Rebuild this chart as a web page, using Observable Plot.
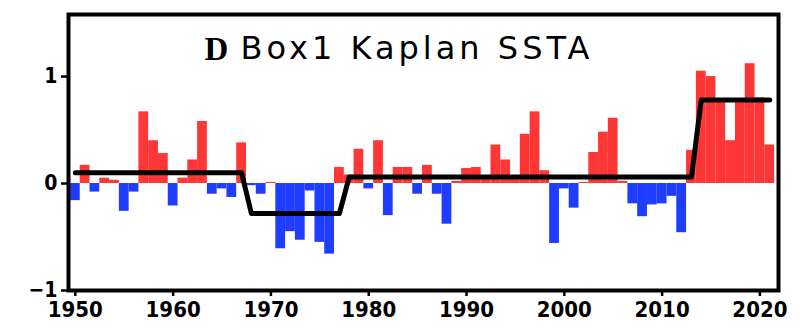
<!DOCTYPE html>
<html>
<head>
<meta charset="utf-8">
<script src="https://cdn.jsdelivr.net/npm/d3@7"></script>
<script src="https://cdn.jsdelivr.net/npm/@observablehq/plot@0.6"></script>
<style>
  html, body { margin: 0; padding: 0; background: #fff; }
  #chart svg { display: block; }
</style>
</head>
<body>
<div id="chart"></div>
<script>
// Annual SST anomaly for Box1 (Kaplan), 1950–2021
const years = d3.range(1950, 2022);
const ssta = [
  -0.16, 0.17, -0.08, 0.05, 0.03, -0.26, -0.08, 0.67, 0.40, 0.28,   // 1950–1959
  -0.21, 0.05, 0.22, 0.58, -0.10, -0.05, -0.13, 0.38, -0.02, -0.10, // 1960–1969
   0.01, -0.61, -0.45, -0.53, -0.07, -0.55, -0.66, 0.15, 0.08, 0.32, // 1970–1979
  -0.05, 0.40, -0.30, 0.15, 0.15, -0.10, 0.17, -0.10, -0.38, 0.02,  // 1980–1989
   0.14, 0.15, 0.07, 0.36, 0.22, 0.05, 0.46, 0.67, 0.12, -0.56,     // 1990–1999
  -0.05, -0.23, 0.01, 0.29, 0.48, 0.61, 0.02, -0.19, -0.31, -0.20,  // 2000–2009
  -0.19, -0.12, -0.46, 0.31, 1.05, 1.00, 0.76, 0.40, 0.78, 1.12,    // 2010–2019
   0.80, 0.36                                                       // 2020–2021
];

// Regime shifts: mean anomaly over each period
const regimeStart = [1950, 1968, 1978, 2014];
const regimeEnd   = [1967, 1977, 2013, 2021];
const regimeMean  = [0.10, -0.28, 0.06, 0.78];

const xTicks = [1950, 1960, 1970, 1980, 1990, 2000, 2010, 2020];
const yTicks = [-1, 0, 1];
const titleLetter = "D";
const titleText = "Box1 Kaplan SSTA";

const RED = "#ff3636";
const BLUE = "#1f3dff";
const tickFont = "'Liberation Sans Narrow', 'DejaVu Sans Condensed', 'Liberation Sans', sans-serif";

const bars = years.map((year, i) => ({year, value: ssta[i]}));
const regimeLine = years.map(year => {
  const k = regimeStart.findIndex((s, j) => year >= s && year <= regimeEnd[j]);
  return {year, mean: regimeMean[k]};
});

const chart = Plot.plot({
  width: 800,
  height: 331,
  marginLeft: 68,
  marginRight: 22,
  marginTop: 14,
  marginBottom: 41,
  x: {domain: [1949.3, 2021.9]},
  y: {domain: [-1, 1.58]},
  style: {background: "#fff", color: "#000"},
  marks: [
    Plot.rect(bars.filter(d => d.value >= 0), {
      x1: d => d.year - 0.5, x2: d => d.year + 0.5, y1: 0, y2: "value", fill: RED
    }),
    Plot.rect(bars.filter(d => d.value < 0), {
      x1: d => d.year - 0.5, x2: d => d.year + 0.5, y1: 0, y2: "value", fill: BLUE
    }),
    Plot.line(regimeLine, {
      x: "year", y: "mean", stroke: "#000", strokeWidth: 5,
      strokeLinejoin: "round", strokeLinecap: "round"
    }),
    Plot.frame({stroke: "#000", strokeWidth: 4}),
    Plot.axisX(xTicks, {
      tickSize: 6, tickPadding: 5, strokeWidth: 2.5, label: null,
      tickFormat: d => String(d),
      fontSize: 22, fontWeight: "bold", fontFamily: tickFont
    }),
    Plot.axisY(yTicks, {
      tickSize: 7, tickPadding: 4, strokeWidth: 2.5, label: null,
      tickFormat: d => d < 0 ? "\u2212" + Math.abs(d) : String(d),
      fontSize: 21, fontWeight: "bold", fontFamily: tickFont
    }),
    Plot.text([titleLetter], {
      frameAnchor: "top", dx: -207, dy: 22,
      fontFamily: "'Liberation Serif', serif", fontWeight: "bold", fontSize: 33
    }),
    Plot.text([titleText], {
      frameAnchor: "top", textAnchor: "start", dx: -183, dy: 22,
      fontFamily: "'DejaVu Sans', sans-serif", fontSize: 32
    })
  ]
});

// Wide tracking for the panel title
for (const t of chart.querySelectorAll("text")) {
  if (t.textContent === titleText) t.setAttribute("letter-spacing", "4");
}

document.getElementById("chart").appendChild(chart);
</script>
</body>
</html>
